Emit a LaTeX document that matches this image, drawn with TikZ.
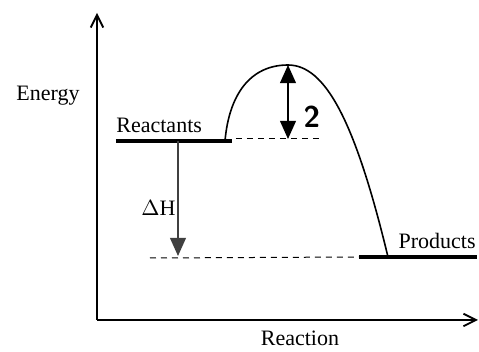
\documentclass[tikz,border=0pt]{standalone}
\usepackage{fontspec}
\setmainfont{Liberation Serif}
\usetikzlibrary{arrows.meta}

\begin{document}
\begin{tikzpicture}[
  x=0.5pt, y=-0.5pt,
  lbl/.style={font=\fontsize{11}{12}\selectfont, inner sep=0pt},
  axis/.style={-{Straight Barb[length=2.2mm, width=2.2mm]}, line width=0.9pt},
  level/.style={line width=2.2pt},
  guide/.style={dashed, dash pattern=on 3pt off 2.5pt, line width=0.5pt},
  tip/.style={Triangle[length=3.2mm, width=2.8mm]},
  span/.style={line width=0.8pt}
]
\useasboundingbox (0,0) rectangle (479,352);
% axes
\coordinate (origin) at (97,320);
\coordinate (ytop) at (97,13);
\coordinate (xend) at (478,320);
\draw[axis] (origin) -- (ytop);
\draw[axis] (origin) -- (xend);
\node[lbl] (energy) at (48,96) {Energy};
\node[lbl] (reaction) at (300,338) {Reaction};
% levels
\coordinate (r1) at (116,141);
\coordinate (r2) at (232,141);
\coordinate (p1) at (359,257);
\coordinate (p2) at (477,257);
\coordinate (rdash) at (320,139);
\coordinate (pdash) at (150,258);
\draw[level] (r1) -- (r2);
\draw[level] (p1) -- (p2);
\draw[guide] (r2) ++(4,-2) -- (rdash);
\draw[guide] (pdash) -- (p1);
\node[lbl, anchor=south west] (reactants) at (116,133) {Reactants};
\node[lbl, anchor=south east] (products) at (476,249) {Products};
% barrier
\coordinate (start) at (225,141);
\coordinate (peak) at (288,65);
\coordinate (end) at (388,257);
\draw[line width=0.8pt] (start) .. controls (229,95) and (250,65) .. (peak)
  .. controls (325,65) and (355,120) .. (end);
\coordinate (base) at (288,139);
\draw[span, {Triangle[length=3.2mm, width=2.8mm]}-{Triangle[length=3.2mm, width=2.8mm]}] (peak) -- (base);
\node[font=\sffamily\bfseries\fontsize{15}{16}\selectfont, inner sep=0pt] (ea) at (312,117) {2};
% enthalpy change
\coordinate (dtop) at (178,141);
\coordinate (dbot) at (178,256);
\draw[span, black!75, -{Triangle[length=3.2mm, width=2.8mm]}] (dtop) -- (dbot);
\node[lbl, anchor=east] (dh) at (176,208) {$\Delta$H};
\end{tikzpicture}
\end{document}
